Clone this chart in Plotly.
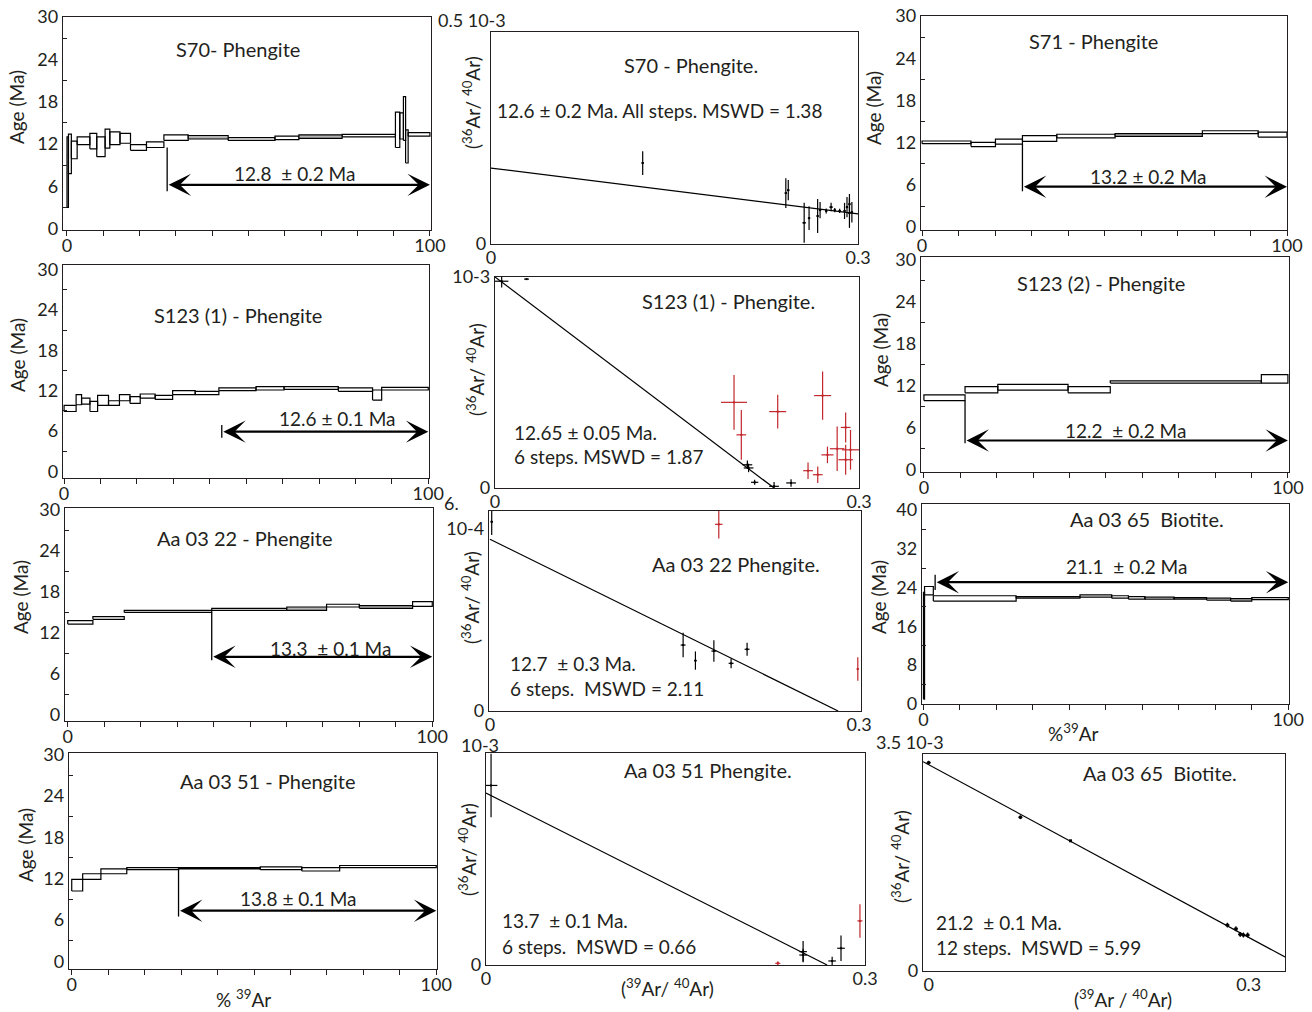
import plotly.graph_objects as go

W, H = 1312, 1012
FONT = "Lato"
INK = "#231f20"
RED = "#c1272d"

# ================= DATA =================
# Age spectra: cumulative %39Ar step edges, step age lower / upper bounds (Ma)
s70_edges = [0, 0.4, 1.2, 2.8, 6.3, 8.2, 10.5, 11.8, 14.6, 17.5, 21.9, 26.7, 33.4, 44.4, 57.3,
             63.9, 75.8, 90.5, 91.7, 92.7, 93.3, 94.0, 100]
s70_lo = [3.0, 7.8, 9.9, 11.9, 11.3, 10.2, 11.4, 11.9, 12.1, 11.1, 11.5, 12.5, 12.7, 12.5, 12.6,
          12.8, 13.0, 11.5, 12.7, 12.5, 9.3, 13.1]
s70_hi = [13.0, 13.4, 12.4, 13.0, 13.5, 13.0, 14.1, 13.7, 13.5, 11.9, 12.3, 13.3, 13.2, 12.9, 13.1,
          13.3, 13.35, 16.5, 16.4, 18.7, 14.0, 13.6]
s70_plateau_start = 27.6

s71_edges = [0, 13.4, 20.1, 27.5, 36.9, 52.9, 76.8, 92.1, 100]
s71_lo = [11.87, 11.45, 11.8, 12.2, 12.7, 12.9, 13.3, 12.8]
s71_hi = [12.24, 12.06, 12.5, 13.0, 13.2, 13.3, 13.7, 13.5]
s71_plateau_start = 27.5

s123a_edges = [0, 3.3, 4.8, 7.1, 9.2, 12.2, 15.2, 18.1, 20.9, 25.0, 29.8, 36.0, 42.5, 52.7, 60.4,
               75.3, 84.7, 87.2, 100]
s123a_lo = [8.9, 9.9, 10.0, 8.9, 9.8, 9.8, 10.5, 10.1, 10.9, 10.7, 11.4, 11.4, 12.0, 12.1, 12.2,
            11.9, 10.6, 12.1]
s123a_hi = [9.8, 11.4, 10.9, 10.4, 11.3, 10.5, 11.4, 11.1, 11.5, 11.3, 12.0, 11.9, 12.4, 12.6, 12.6,
            12.4, 12.1, 12.5]
s123a_plateau_start = 43.3

s123b_edges = [0, 11.3, 20.3, 39.6, 51.2, 92.7, 100]
s123b_lo = [9.9, 11.0, 11.4, 11.0, 12.4, 12.4]
s123b_hi = [10.7, 11.9, 12.2, 11.9, 12.7, 13.6]
s123b_plateau_start = 11.3

aa22_edges = [0, 6.9, 15.5, 39.5, 60.1, 71.0, 80.0, 94.6, 100]
aa22_lo = [13.3, 14.0, 15.0, 15.3, 15.3, 15.8, 15.6, 15.9]
aa22_hi = [13.8, 14.4, 15.3, 15.6, 15.8, 16.2, 16.0, 16.6]
aa22_plateau_start = 39.5

aa65_edges = [0, 0.3, 2.7, 25.4, 42.9, 51.6, 56.2, 60.7, 68.7, 77.6, 84.2, 90.0, 100]
aa65_lo = [1.0, 22.5, 21.2, 21.8, 22.0, 21.8, 21.6, 21.6, 21.6, 21.4, 21.2, 21.5]
aa65_hi = [23.0, 24.2, 22.3, 22.1, 22.5, 22.3, 22.1, 22.0, 21.9, 21.8, 21.7, 21.9]
aa65_plateau_start = 3.2

aa51_edges = [0, 3.0, 8.0, 15.1, 29.3, 51.7, 63.1, 73.5, 100]
aa51_lo = [10.2, 11.9, 12.7, 13.3, 13.4, 13.3, 13.1, 13.6]
aa51_hi = [11.9, 12.7, 13.4, 13.6, 13.6, 13.7, 13.6, 13.9]
aa51_plateau_start = 29.3

# Inverse isochrons: 39Ar/40Ar (x), 36Ar/40Ar (y, in units of the top label), errors
s70_iso_x = [0.124, 0.241, 0.243, 0.256, 0.260, 0.267, 0.269, 0.274, 0.278, 0.281, 0.285, 0.289,
             0.291, 0.293, 0.293, 0.295]
s70_iso_y = [0.191, 0.120, 0.127, 0.050, 0.061, 0.066, 0.080, 0.078, 0.087, 0.080, 0.078, 0.078,
             0.087, 0.094, 0.073, 0.075]
s70_iso_ex = [0.001, 0.001, 0.001, 0.0015, 0.001, 0.001, 0.001, 0.001, 0.0015, 0.001, 0.001, 0.001,
              0.001, 0.001, 0.001, 0.001]
s70_iso_ey = [0.028, 0.035, 0.024, 0.047, 0.028, 0.040, 0.019, 0.006, 0.010, 0.005, 0.005, 0.019,
              0.024, 0.024, 0.035, 0.024]
s70_fit_x = [0, 0.3]
s70_fit_y = [0.179, 0.071]

s123_iso_x = [0.0055, 0.026, 0.208, 0.209, 0.214, 0.230, 0.244]
s123_iso_y = [0.98, 0.99, 0.11, 0.095, 0.027, 0.008, 0.024]
s123_iso_ex = [0.0055, 0.002, 0.004, 0.004, 0.003, 0.004, 0.004]
s123_iso_ey = [0.03, 0.003, 0.02, 0.02, 0.012, 0.02, 0.018]
s123_rej_x = [0.197, 0.203, 0.233, 0.270, 0.258, 0.266, 0.274, 0.282, 0.289, 0.293, 0.289]
s123_rej_y = [0.406, 0.252, 0.362, 0.438, 0.082, 0.063, 0.157, 0.186, 0.287, 0.181, 0.134]
s123_rej_ex = [0.0107, 0.004, 0.007, 0.007, 0.004, 0.004, 0.005, 0.006, 0.004, 0.007, 0.006]
s123_rej_ey = [0.13, 0.118, 0.08, 0.114, 0.039, 0.039, 0.039, 0.106, 0.071, 0.094, 0.071]
s123_fit_x = [0, 0.230]
s123_fit_y = [1.0, 0]

aa22_iso_x = [0.0014, 0.157, 0.167, 0.182, 0.196, 0.209]
aa22_iso_y = [1.036, 0.361, 0.276, 0.328, 0.261, 0.338]
aa22_iso_ex = [0.001, 0.002, 0.001, 0.002, 0.002, 0.002]
aa22_iso_ey = [0.073, 0.067, 0.05, 0.059, 0.027, 0.036]
aa22_rej_x = [0.186, 0.299]
aa22_rej_y = [1.022, 0.230]
aa22_rej_ex = [0.003, 0.001]
aa22_rej_ey = [0.078, 0.064]
aa22_fit_x = [0, 0.283]
aa22_fit_y = [0.94, 0]

aa51_iso_x = [0.004, 0.251, 0.251, 0.274, 0.281]
aa51_iso_y = [0.847, 0.063, 0.047, 0.019, 0.079]
aa51_iso_ex = [0.005, 0.003, 0.003, 0.003, 0.003]
aa51_iso_ey = [0.15, 0.05, 0.03, 0.02, 0.06]
aa51_rej_x = [0.231, 0.296]
aa51_rej_y = [0.008, 0.208]
aa51_rej_ex = [0.002, 0.002]
aa51_rej_ey = [0.01, 0.079]
aa51_fit_x = [0, 0.270]
aa51_fit_y = [0.811, 0]

aa65_iso_x = [0.0, 0.086, 0.133, 0.280, 0.288, 0.292, 0.295, 0.299]
aa65_iso_y = [3.36, 2.48, 2.10, 0.74, 0.68, 0.59, 0.58, 0.58]
aa65_iso_ex = [0.002, 0.002, 0.001, 0.002, 0.002, 0.002, 0.002, 0.002]
aa65_iso_ey = [0.03, 0.03, 0.01, 0.04, 0.04, 0.04, 0.04, 0.04]
aa65_fit_x = [-0.0053, 0.334]
aa65_fit_y = [3.376, 0.226]

# ================= FIGURE =================
fig = go.Figure()


def px_x(v):
    return v / W


def px_y(v):
    return 1 - v / H


def axnames(i):
    return ("x" if i == 1 else f"x{i}"), ("y" if i == 1 else f"y{i}")


def setup_axes(i, box, xr, yr, xtv, xtt, ytv, ytt, xticks, yminor=None):
    L, R, T, B = box
    xk = "xaxis" if i == 1 else f"xaxis{i}"
    yk = "yaxis" if i == 1 else f"yaxis{i}"
    xa, ya = axnames(i)
    common = dict(showline=True, mirror=True, linecolor=INK, linewidth=1.3, showgrid=False,
                  zeroline=False, fixedrange=True, automargin=False,
                  tickfont=dict(family=FONT, size=18, color=INK))
    fig.layout[xk] = dict(domain=[px_x(L), px_x(R)], range=xr, anchor=ya,
                          tickmode="array", tickvals=xtv, ticktext=xtt,
                          ticks="outside" if xticks else "", ticklen=5, tickcolor=INK,
                          ticklabelstandoff=-6 if xticks else -3,
                          **common)
    yd = dict(domain=[px_y(B), px_y(T)], range=yr, anchor=xa,
              tickmode="array", tickvals=ytv, ticktext=ytt, ticks="", **common)
    if yminor is not None:
        yd["minor"] = dict(tickmode="array", tickvals=yminor, ticks="inside", ticklen=4,
                           tickcolor=INK)
    fig.layout[yk] = yd


def add_spectrum(i, edges, lo, hi, shade, pstart, vline, arrow_y):
    xa, ya = axnames(i)
    for group, fc in ((False, "white"), (True, "#b3b3b3")):
        xs, ys = [], []
        for k in range(len(lo)):
            if (k in shade) != group:
                continue
            xs += [edges[k], edges[k + 1], edges[k + 1], edges[k], edges[k], None]
            ys += [lo[k], lo[k], hi[k], hi[k], lo[k], None]
        if xs:
            fig.add_trace(go.Scatter(x=xs, y=ys, xaxis=xa, yaxis=ya, mode="lines", fill="toself",
                                     fillcolor=fc, line=dict(color="black", width=1.2),
                                     hoverinfo="skip", showlegend=False))
    fig.add_trace(go.Scatter(x=[pstart, pstart], y=vline, xaxis=xa, yaxis=ya, mode="lines",
                             line=dict(color="black", width=1.3), hoverinfo="skip",
                             showlegend=False))
    fig.add_annotation(x=edges[-1], y=arrow_y, ax=pstart, ay=arrow_y, xref=xa, yref=ya,
                       axref=xa, ayref=ya, text="", showarrow=True, arrowside="end+start",
                       arrowhead=3, startarrowhead=3, arrowsize=1.7, startarrowsize=1.7,
                       arrowwidth=2.2, arrowcolor="black", standoff=0, startstandoff=0)


def add_iso(i, x, y, ex, ey, color, msize=2):
    xa, ya = axnames(i)
    fig.add_trace(go.Scatter(x=x, y=y, xaxis=xa, yaxis=ya, mode="markers",
                             marker=dict(size=msize, color=color, symbol="square"),
                             error_x=dict(type="data", array=ex, color=color, thickness=1.2, width=0),
                             error_y=dict(type="data", array=ey, color=color, thickness=1.2, width=0),
                             hoverinfo="skip", showlegend=False))


def add_fit(i, x, y):
    xa, ya = axnames(i)
    fig.add_trace(go.Scatter(x=x, y=y, xaxis=xa, yaxis=ya, mode="lines",
                             line=dict(color="black", width=1.2), hoverinfo="skip",
                             showlegend=False))


def text(xp, yp, s, size=19, anchor="center", angle=0):
    fig.add_annotation(x=px_x(xp), y=px_y(yp), xref="paper", yref="paper", text=s,
                       showarrow=False, xanchor=anchor, yanchor="middle", textangle=angle,
                       font=dict(family=FONT, size=size, color=INK))


pct_ticks = list(range(0, 101, 10))
pct_text = ["0"] + [""] * 9 + ["100"]
age_major = [0, 6, 12, 18, 24, 30]
age_minor = [3, 9, 15, 21, 27]
age_major40 = [0, 8, 16, 24, 32, 40]
age_minor40 = [4, 12, 20, 28, 36]

# ---- age spectrum panels ----
setup_axes(1, (63, 431, 17, 230), [-1.1, 100.3], [-0.2, 30], pct_ticks, pct_text,
           age_major, [str(v) for v in age_major], True, age_minor)
add_spectrum(1, s70_edges, s70_lo, s70_hi, {12, 15}, s70_plateau_start, [11.5, 5.3], 6.2)

setup_axes(3, (921, 1287, 16, 230), [-0.3, 100], [-0.4, 30], pct_ticks, pct_text,
           age_major, [str(v) for v in age_major], True, age_minor)
add_spectrum(3, s71_edges, s71_lo, s71_hi, {5}, s71_plateau_start, [11.8, 5.1], 5.75)

setup_axes(4, (63, 429, 265, 478), [-0.3, 100.2], [-1.0, 30.7], pct_ticks, pct_text,
           age_major, [str(v) for v in age_major], True, age_minor)
add_spectrum(4, s123a_edges, s123a_lo, s123a_hi, set(), s123a_plateau_start, [6.9, 5.0], 5.9)

setup_axes(6, (921, 1289, 257, 472), [-0.8, 100.3], [-0.3, 30.4], pct_ticks, pct_text,
           age_major, [str(v) for v in age_major], True, age_minor)
add_spectrum(6, s123b_edges, s123b_lo, s123b_hi, set(), s123b_plateau_start, [9.9, 3.8], 4.2)

setup_axes(7, (65, 433, 508, 721), [-0.75, 100.2], [-0.9, 30.3], pct_ticks, pct_text,
           age_major, [str(v) for v in age_major], True, age_minor)
add_spectrum(7, aa22_edges, aa22_lo, aa22_hi, {4, 6}, aa22_plateau_start, [15.0, 8.0], 8.5)

setup_axes(9, (922, 1289, 504, 704), [-0.4, 100.2], [0, 41.2], pct_ticks, pct_text,
           age_major40, [str(v) for v in age_major40], True, age_minor40)
add_spectrum(9, aa65_edges, aa65_lo, aa65_hi, {10}, aa65_plateau_start, [26.6, 23.5], 25.1)

setup_axes(10, (69, 437, 753, 969), [-0.75, 100.2], [-1.1, 30.2], pct_ticks, pct_text,
           age_major, [str(v) for v in age_major], True, age_minor)
add_spectrum(10, aa51_edges, aa51_lo, aa51_hi, set(), aa51_plateau_start, [13.4, 6.5], 7.35)

# ---- isochron panels ----
setup_axes(2, (491, 858, 32, 244), [0, 0.3], [0, 0.5], [0, 0.3], ["0", "0.3"], [0], ["0"], False)
add_fit(2, s70_fit_x, s70_fit_y)
add_iso(2, s70_iso_x, s70_iso_y, s70_iso_ex, s70_iso_ey, "black")

setup_axes(5, (495, 859, 277, 488), [0, 0.3], [0, 1.0], [0, 0.3], ["0", "0.3"], [0, 1.0],
           ["0", "10-3"], False)
add_fit(5, s123_fit_x, s123_fit_y)
add_iso(5, s123_iso_x, s123_iso_y, s123_iso_ex, s123_iso_ey, "black")
add_iso(5, s123_rej_x, s123_rej_y, s123_rej_ex, s123_rej_ey, RED)

setup_axes(8, (489, 861, 511, 711), [-0.0008, 0.3016], [0, 1.095], [0, 0.3], ["0", "0.3"],
           [0, 1.0], ["0", "10-4"], False)
add_fit(8, aa22_fit_x, aa22_fit_y)
add_iso(8, aa22_iso_x, aa22_iso_y, aa22_iso_ex, aa22_iso_ey, "black")
add_iso(8, aa22_rej_x, aa22_rej_y, aa22_rej_ex, aa22_rej_ey, RED)

setup_axes(11, (486, 865, 753, 965), [0, 0.3], [0, 1.0], [0, 0.3], ["0", "0.3"], [0], ["0"], False)
add_fit(11, aa51_fit_x, aa51_fit_y)
add_iso(11, aa51_iso_x, aa51_iso_y, aa51_iso_ex, aa51_iso_ey, "black")
add_iso(11, aa51_rej_x, aa51_rej_y, aa51_rej_ex, aa51_rej_ey, RED)

setup_axes(12, (923, 1285, 754, 971), [-0.0053, 0.334], [0, 3.5], [0, 0.3], ["0", "0.3"], [0],
           ["0"], False)
add_fit(12, aa65_fit_x, aa65_fit_y)
add_iso(12, aa65_iso_x, aa65_iso_y, aa65_iso_ex, aa65_iso_ey, "black", msize=3)

# ---- texts ----
ISO_T = "(<sup>36</sup>Ar/ <sup>40</sup>Ar)"
AGE_T = "Age (Ma)"
TS = 20   # panel titles
RS = 19   # rotated axis titles

text(238, 49, "S70- Phengite", TS)
text(294, 173, "12.8  ± 0.2 Ma")
text(17, 107, AGE_T, RS, angle=-90)

text(691, 65, "S70 - Phengite.", TS)
text(495, 110, "12.6 ± 0.2 Ma. All steps. MSWD = 1.38", anchor="left")
text(472, 103, ISO_T, RS, angle=-90)
text(472, 20, "0.5 10-3", size=18)

text(1093, 41, "S71 - Phengite", TS)
text(1148, 176, "13.2 ± 0.2 Ma")
text(873, 108, AGE_T, RS, angle=-90)

text(238, 315, "S123 (1) - Phengite", TS)
text(337, 418, "12.6 ± 0.1 Ma")
text(17, 355, AGE_T, RS, angle=-90)

text(728, 301, "S123 (1) - Phengite.", TS)
text(512, 432, "12.65 ± 0.05 Ma.", anchor="left")
text(512, 457, "6 steps. MSWD = 1.87", anchor="left")
text(475, 370, ISO_T, RS, angle=-90)
text(452, 503, "6.", size=18)

text(1101, 283, "S123 (2) - Phengite", TS)
text(1125, 430, "12.2  ± 0.2 Ma")
text(880, 350, AGE_T, RS, angle=-90)

text(245, 538, "Aa 03 22 - Phengite", TS)
text(330, 648, "13.3  ± 0.1 Ma")
text(20, 597, AGE_T, RS, angle=-90)

text(736, 564, "Aa 03 22 Phengite.", TS)
text(508, 663, "12.7  ± 0.3 Ma.", anchor="left")
text(508, 688, "6 steps.  MSWD = 2.11", anchor="left")
text(470, 598, ISO_T, RS, angle=-90)

text(1147, 519, "Aa 03 65  Biotite.", TS)
text(1126, 566, "21.1  ± 0.2 Ma")
text(878, 597, AGE_T, RS, angle=-90)
text(1073, 732, "%<sup>39</sup>Ar", size=19)

text(268, 781, "Aa 03 51 - Phengite", TS)
text(298, 898, "13.8 ± 0.1 Ma")
text(25, 845, AGE_T, RS, angle=-90)
text(243, 998, "% <sup>39</sup>Ar", size=19)

text(708, 770, "Aa 03 51 Phengite.", TS)
text(500, 920, "13.7  ± 0.1 Ma.", anchor="left")
text(500, 946, "6 steps.  MSWD = 0.66", anchor="left")
text(467, 850, ISO_T, RS, angle=-90)
text(480, 745, "10-3", size=18)
text(667, 987, "(<sup>39</sup>Ar/ <sup>40</sup>Ar)", size=19)

text(1160, 773, "Aa 03 65  Biotite.", TS)
text(934, 922, "21.2  ± 0.1 Ma.", anchor="left")
text(934, 947, "12 steps.  MSWD = 5.99", anchor="left")
text(900, 857, ISO_T, RS, angle=-90)
text(910, 742, "3.5 10-3", size=18)
text(1123, 998, "(<sup>39</sup>Ar / <sup>40</sup>Ar)", size=19)

fig.update_layout(width=W, height=H, margin=dict(l=0, r=0, t=0, b=0, pad=0), autosize=False,
                  template="none",
                  paper_bgcolor="white", plot_bgcolor="white", showlegend=False,
                  font=dict(family=FONT, color=INK))

fig.write_html("out.html", config={"displayModeBar": False})
